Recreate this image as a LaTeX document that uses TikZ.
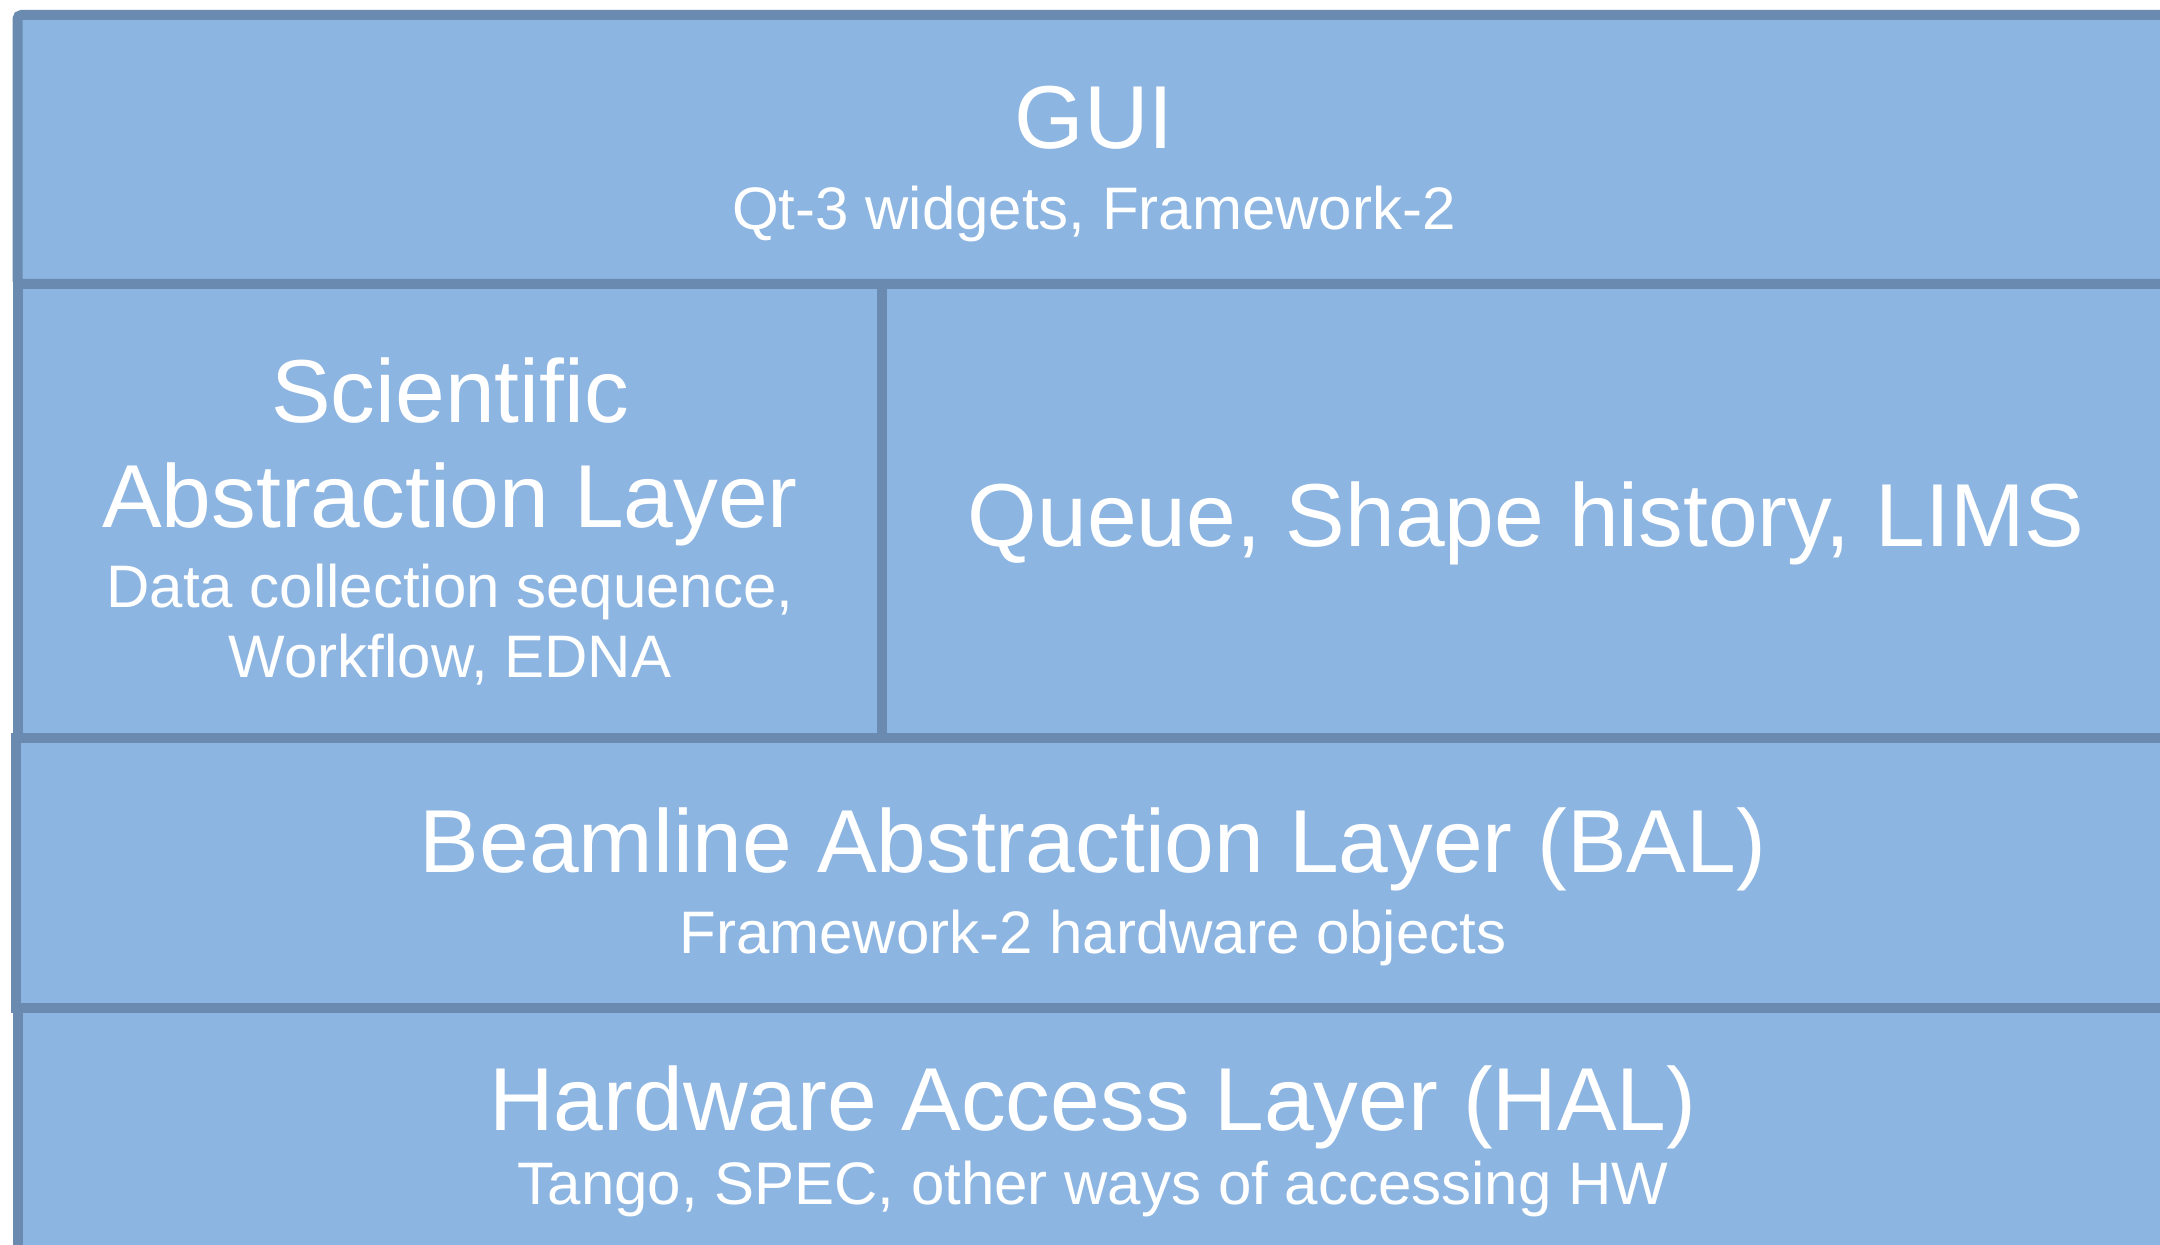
\documentclass[tikz,border=0pt]{standalone}
\usepackage{fontspec}
\setmainfont{Liberation Sans}
\definecolor{layerfill}{HTML}{8DB5E1}
\definecolor{layerline}{HTML}{6A8BAF}
\begin{document}
\begin{tikzpicture}[x=0.5pt,y=-0.5pt,
  layer/.style={draw=layerline,fill=layerfill,line width=5pt,rectangle,inner sep=0pt,outer sep=0pt,anchor=north west},
  bigtext/.style={text=white,anchor=base,inner sep=0pt,font=\fontsize{44.7}{52}\selectfont},
  smalltext/.style={text=white,anchor=base,inner sep=0pt,font=\fontsize{30}{35}\selectfont}]
\useasboundingbox (0,0) rectangle (2160,1245);
\clip (0,0) rectangle (2160,1245);
% layers (x from left border centre, widths run past the right edge)
\node[layer,rounded corners=2pt,minimum width=2162.5*0.5pt,minimum height=269*0.5pt] (gui) at (17.5,15) {};
\node[layer,minimum width=864.5*0.5pt,minimum height=454*0.5pt] (sal) at (17.5,284) {};
\node[layer,minimum width=1298*0.5pt,minimum height=454*0.5pt] (queue) at (882,284) {};
\node[layer,minimum width=2164.3*0.5pt,minimum height=270*0.5pt] (bal) at (15.7,738) {};
\node[layer,minimum width=2162.5*0.5pt,minimum height=260*0.5pt] (hal) at (17.5,1008) {};
% texts
\node[bigtext] (guiT) at (1094,149) {GUI};
\node[smalltext] (guiS) at (1094,230) {Qt-3 widgets, Framework-2};
\node[bigtext] (salT1) at (450,423) {Scientific};
\node[bigtext] (salT2) at (450,528) {Abstraction Layer};
\node[smalltext] (salS1) at (450,607.5) {Data collection sequence,};
\node[smalltext] (salS2) at (450,678) {Workflow, EDNA};
\node[bigtext] (queueT) at (1526,547) {Queue, Shape history, LIMS};
\node[bigtext] (balT) at (1093,873) {Beamline Abstraction Layer (BAL)};
\node[smalltext] (balS) at (1093,953) {Framework-2 hardware objects};
\node[bigtext] (halT) at (1093,1130) {Hardware Access Layer (HAL)};
\node[smalltext] (halS) at (1093,1204) {Tango, SPEC, other ways of accessing HW};
\end{tikzpicture}
\end{document}
